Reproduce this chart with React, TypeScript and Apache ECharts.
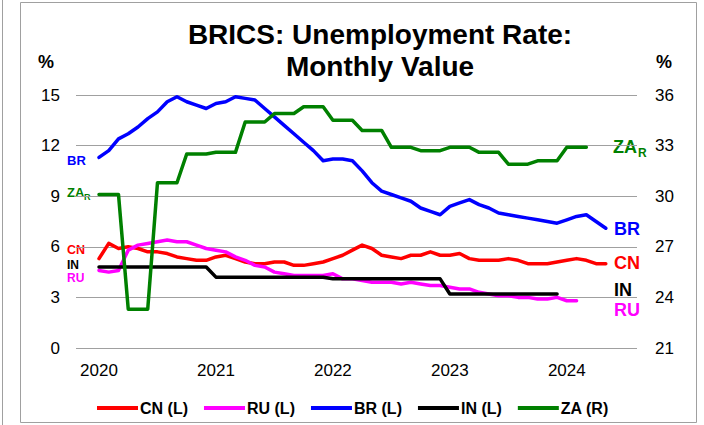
import React, { useEffect, useRef } from 'react';
import * as echarts from 'echarts';

// Month index 0 = Jan 2020
const yearTicks = ['2020', '2021', '2022', '2023', '2024'];
const yearTickIndex = [0, 12, 24, 36, 48];
const leftTicks = [0, 3, 6, 9, 12, 15];
const rightTicks = [21, 24, 27, 30, 33, 36];

const cn = [
  5.3, 6.2, 5.9, 6.0, 5.9, 5.7, 5.7, 5.6, 5.4, 5.3, 5.2, 5.2,
  5.4, 5.5, 5.3, 5.1, 5.0, 5.0, 5.1, 5.1, 4.9, 4.9, 5.0, 5.1,
  5.3, 5.5, 5.8, 6.1, 5.9, 5.5, 5.4, 5.3, 5.5, 5.5, 5.7, 5.5,
  5.5, 5.6, 5.3, 5.2, 5.2, 5.2, 5.3, 5.2, 5.0, 5.0, 5.0, 5.1,
  5.2, 5.3, 5.2, 5.0, 5.0,
];
const ru = [
  4.6, 4.5, 4.6, 5.8, 6.1, 6.2, 6.3, 6.4, 6.3, 6.3, 6.1, 5.9,
  5.8, 5.7, 5.4, 5.2, 4.9, 4.8, 4.5, 4.4, 4.3, 4.3, 4.3, 4.3,
  4.4, 4.1, 4.1, 4.0, 3.9, 3.9, 3.9, 3.8, 3.9, 3.8, 3.7, 3.7,
  3.6, 3.5, 3.5, 3.3, 3.2, 3.1, 3.1, 3.0, 3.0, 2.9, 2.9, 3.0,
  2.8, 2.8,
];
const br = [
  11.3, 11.7, 12.4, 12.7, 13.1, 13.6, 14.0, 14.6, 14.9, 14.6, 14.4, 14.2,
  14.5, 14.6, 14.9, 14.8, 14.7, 14.2, 13.7, 13.2, 12.7, 12.2, 11.7, 11.1,
  11.2, 11.2, 11.1, 10.5, 9.8, 9.3, 9.1, 8.9, 8.7, 8.3, 8.1, 7.9,
  8.4, 8.6, 8.8, 8.5, 8.3, 8.0, 7.9, 7.8, 7.7, 7.6, 7.5, 7.4,
  7.6, 7.8, 7.9, 7.5, 7.1,
];
const inn = [
  4.8, 4.8, 4.8, 4.8, 4.8, 4.8, 4.8, 4.8, 4.8, 4.8, 4.8, 4.8,
  4.2, 4.2, 4.2, 4.2, 4.2, 4.2, 4.2, 4.2, 4.2, 4.2, 4.2, 4.2,
  4.1, 4.1, 4.1, 4.1, 4.1, 4.1, 4.1, 4.1, 4.1, 4.1, 4.1, 4.1,
  3.2, 3.2, 3.2, 3.2, 3.2, 3.2, 3.2, 3.2, 3.2, 3.2, 3.2, 3.2,
];
const za = [
  30.1, 30.1, 30.1, 23.3, 23.3, 23.3, 30.8, 30.8, 30.8, 32.5, 32.5, 32.5,
  32.6, 32.6, 32.6, 34.4, 34.4, 34.4, 34.9, 34.9, 34.9, 35.3, 35.3, 35.3,
  34.5, 34.5, 34.5, 33.9, 33.9, 33.9, 32.9, 32.9, 32.9, 32.7, 32.7, 32.7,
  32.9, 32.9, 32.9, 32.6, 32.6, 32.6, 31.9, 31.9, 31.9, 32.1, 32.1, 32.1,
  32.9, 32.9, 32.9,
];

const seriesNames = ['CN (L)', 'RU (L)', 'BR (L)', 'IN (L)', 'ZA (R)'];
const seriesColors = ['#FF0000', '#FF00FF', '#0000FF', '#000000', '#008000'];

const FONT = '"Liberation Sans", Arial, Helvetica, sans-serif';

function txt(text: string, x: number, y: number, size: number, color: string, align = 'left', weight = 'bold') {
  return {
    type: 'text',
    x,
    y,
    silent: true,
    style: {
      text,
      fill: color,
      font: `${weight} ${size}px ${FONT}`,
      textAlign: align,
      textVerticalAlign: 'middle',
      align,
      verticalAlign: 'middle',
    },
  };
}

export default function App() {
  const ref = useRef<HTMLDivElement>(null);
  useEffect(() => {
    const chart = echarts.init(ref.current as HTMLDivElement, null, { renderer: 'svg' });
    const pairs = (arr: number[]) => arr.map((v, i) => [i, v]);
    const datasets = [cn, ru, br, inn, za];
    chart.setOption({
      animation: false,
      backgroundColor: '#ffffff',
      textStyle: { fontFamily: FONT },
      grid: { left: 76, right: 67, top: 95, bottom: 77, containLabel: false },
      legend: {
        left: 92,
        top: 395,
        icon: 'rect',
        itemWidth: 41,
        itemHeight: 4,
        itemGap: 16,
        textStyle: { fontSize: 16, fontWeight: 'bold', color: '#000', fontFamily: FONT, padding: [0, 0, 0, -3] },
        data: seriesNames,
      },
      xAxis: {
        type: 'value',
        min: -2.36,
        max: 55.2,
        axisLine: { show: false },
        axisTick: { show: false },
        splitLine: { show: false },
        axisLabel: {
          customValues: yearTickIndex,
          formatter: (v: number) => {
            const k = yearTickIndex.indexOf(Math.round(v));
            return k >= 0 ? yearTicks[k] : '';
          },
          fontSize: 17,
          color: '#000',
          margin: 14,
          fontFamily: FONT,
        },
      },
      yAxis: [
        {
          type: 'value',
          min: leftTicks[0],
          max: leftTicks[leftTicks.length - 1],
          interval: 3,
          axisLine: { show: false },
          axisTick: { show: false },
          splitLine: { show: true, lineStyle: { color: '#a0a0a0', width: 1 } },
          axisLabel: { fontSize: 17, color: '#000', margin: 16, fontFamily: FONT },
        },
        {
          type: 'value',
          min: rightTicks[0],
          max: rightTicks[rightTicks.length - 1],
          interval: 3,
          position: 'right',
          axisLine: { show: false },
          axisTick: { show: false },
          splitLine: { show: false },
          axisLabel: { fontSize: 17, color: '#000', margin: 18, fontFamily: FONT },
        },
      ],
      series: datasets.map((d, k) => ({
        name: seriesNames[k],
        type: 'line',
        yAxisIndex: k === 4 ? 1 : 0,
        data: pairs(d),
        symbol: 'none',
        showSymbol: false,
        color: seriesColors[k],
        lineStyle: { width: 3.5, color: seriesColors[k], join: 'round', cap: 'round' },
        z: 2 + k,
      })),
      graphic: [
        { type: 'line', silent: true, shape: { x1: 2.5, y1: 0, x2: 2.5, y2: 425 }, style: { stroke: '#a0a0a0', lineWidth: 1 } },
        { type: 'rect', silent: true, shape: { x: 20.5, y: 2.5, width: 676, height: 420 }, style: { fill: 'none', stroke: '#a0a0a0', lineWidth: 1 } },
        txt('BRICS: Unemployment Rate:', 380, 34, 28, '#000', 'center'),
        txt('Monthly Value', 380, 66, 28, '#000', 'center'),
        txt('%', 46, 62, 18, '#000', 'center'),
        txt('%', 664, 62, 18, '#000', 'center'),
        // right-hand labels
        txt('ZA', 613, 147, 18, '#008000'),
        txt('R', 638, 153, 12, '#008000'),
        txt('BR', 614, 229, 18, '#0000FF'),
        txt('CN', 614, 263, 18, '#FF0000'),
        txt('IN', 614, 290, 18, '#000000'),
        txt('RU', 614, 310, 18, '#FF00FF'),
        // left-hand labels
        txt('BR', 67, 160, 13, '#0000FF'),
        txt('ZA', 67, 192, 13, '#008000'),
        txt('R', 84, 197, 9, '#008000'),
        txt('CN', 67, 250, 12.5, '#FF0000'),
        txt('IN', 67, 265, 12, '#000000'),
        txt('RU', 67, 277.5, 12, '#FF00FF'),
      ],
    });
    return () => chart.dispose();
  }, []);
  return (
    <div
      ref={ref}
      style={{ position: 'fixed', left: 0, top: 0, width: 704, height: 425, background: '#fff' }}
    />
  );
}
